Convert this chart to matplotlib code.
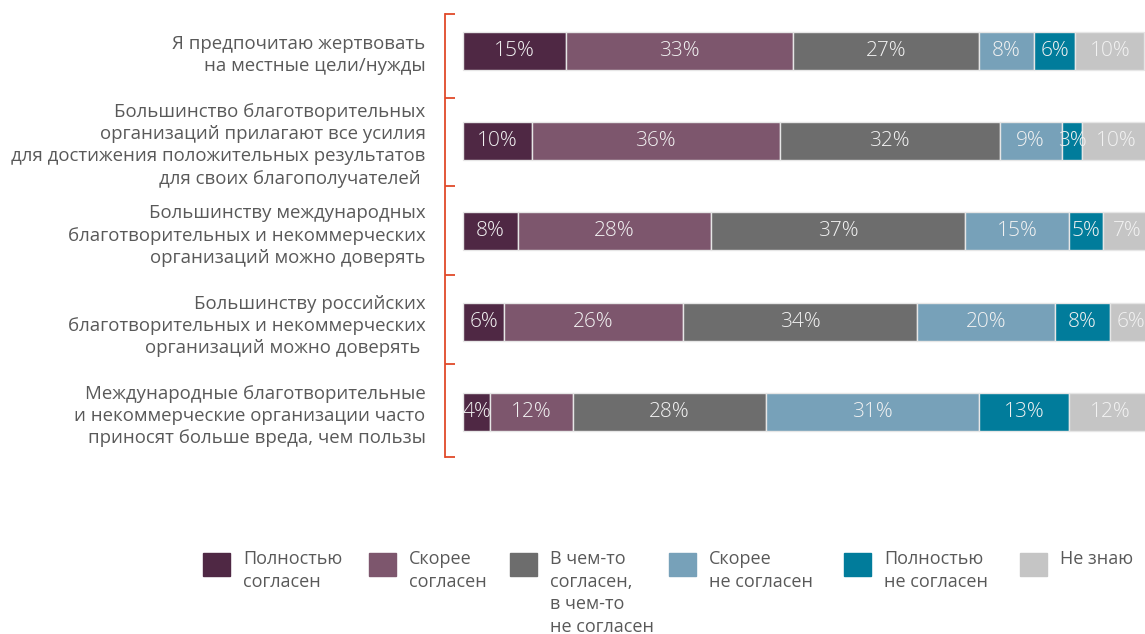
import matplotlib
matplotlib.use("Agg")
import matplotlib.pyplot as plt
from matplotlib.patches import Rectangle
import numpy as np

plt.rcParams['font.family'] = ['Open Sans', 'DejaVu Sans']

categories = [
    "Я предпочитаю жертвовать\nна местные цели/нужды",
    "Большинство благотворительных\nорганизаций прилагают все усилия\nдля достижения положительных результатов\nдля своих благополучателей ",
    "Большинству международных\nблаготворительных и некоммерческих\nорганизаций можно доверять",
    "Большинству российских\nблаготворительных и некоммерческих\nорганизаций можно доверять ",
    "Международные благотворительные\nи некоммерческие организации часто\nприносят больше вреда, чем пользы",
]
series_names = [
    "Полностью\nсогласен",
    "Скорее\nсогласен",
    "В чем-то\nсогласен,\nв чем-то\nне согласен",
    "Скорее\nне согласен",
    "Полностью\nне согласен",
    "Не знаю",
]
fully_agree = [15, 10, 8, 6, 4]
rather_agree = [33, 36, 28, 26, 12]
partly = [27, 32, 37, 34, 28]
rather_disagree = [8, 9, 15, 20, 31]
fully_disagree = [6, 3, 5, 8, 13]
dont_know = [10, 10, 7, 6, 12]
series = [fully_agree, rather_agree, partly, rather_disagree, fully_disagree, dont_know]
colors = ["#4f2844", "#7d566d", "#6d6d6d", "#77a1b9", "#017c9b", "#c5c5c5"]

fig = plt.figure(figsize=(11.45, 6.34), dpi=100)
ax = fig.add_axes([445 / 1145, 1 - 457 / 634, 1 - 445 / 1145, (457 - 14) / 634])

y = np.arange(len(categories))
left = np.zeros(len(categories))
for vals, col in zip(series, colors):
    vals = np.array(vals, dtype=float)
    bars = ax.barh(y, vals, left=left, height=0.42, color=col,
                   edgecolor="#e6e6e6", linewidth=1.0)
    for b, v in zip(bars, vals):
        ax.text(b.get_x() + b.get_width() / 2, b.get_y() + b.get_height() / 2,
                f"{int(v)}%", ha="center", va="center", fontsize=15,
                color="#f2f2f2", fontweight="light", clip_on=True)
    left += vals

ax.set_xlim(-2.6, 99.1)
ax.set_ylim(4.5, -0.41)

for s in ["top", "right", "bottom"]:
    ax.spines[s].set_visible(False)
ax.spines["left"].set_color("#e04a2a")
ax.spines["left"].set_linewidth(1.3)
ax.set_xticks([])
ax.set_yticks(y)
ax.set_yticklabels(categories, fontsize=13.4, color="#595959", linespacing=1.3)
ax.tick_params(axis="y", which="major", length=0, pad=14)
ax.set_yticks([-0.41, 0.52, 1.5, 2.48, 3.47, 4.5], minor=True)
ax.tick_params(axis="y", which="minor", direction="in", length=7,
               width=1.3, color="#e04a2a")

# legend
sq_x = [203, 369, 510, 669, 844, 1020]
for xpx, name, col in zip(sq_x, series_names, colors):
    fig.patches.append(Rectangle((xpx / 1145, 1 - 576 / 634), 27 / 1145, 23 / 634,
                                 transform=fig.transFigure, color=col))
    fig.text((xpx + 40) / 1145, 1 - 550 / 634, name, ha="left", va="top",
             fontsize=13.0, color="#595959", linespacing=1.33)

fig.savefig("out.png", dpi=100)
